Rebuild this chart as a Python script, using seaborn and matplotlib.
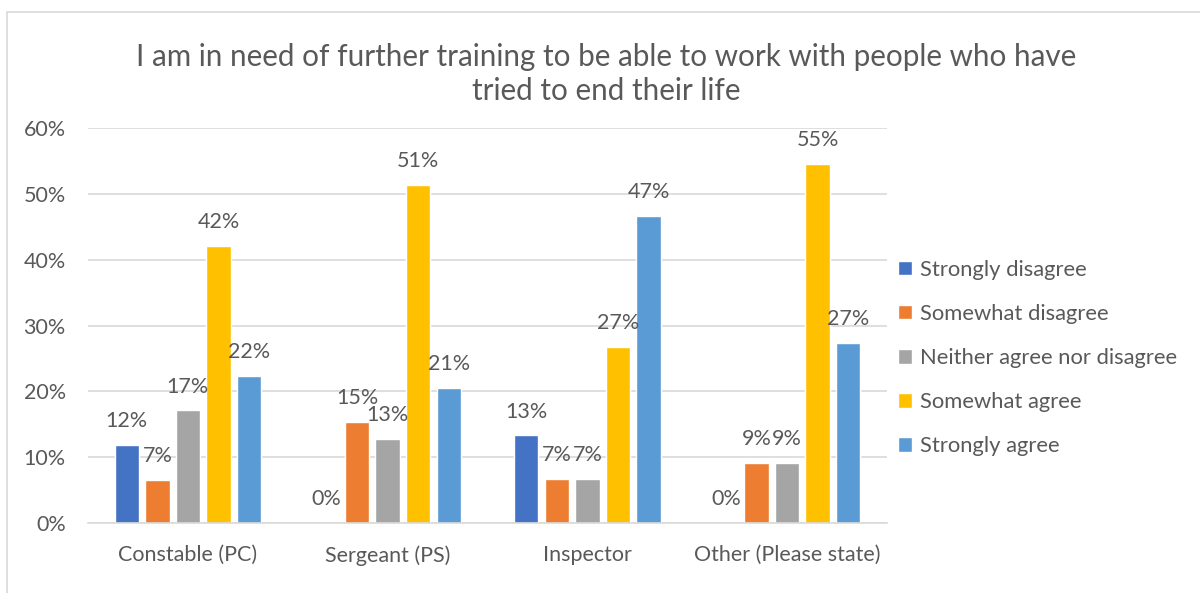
import pandas as pd
import matplotlib
matplotlib.use("Agg")
from matplotlib import pyplot as plt
import seaborn as sns
from matplotlib.ticker import FuncFormatter
from matplotlib.patches import Rectangle

ranks = ["Constable (PC)", "Sergeant (PS)", "Inspector", "Other (Please state)"]
answers = ["Strongly disagree", "Somewhat disagree", "Neither agree nor disagree",
           "Somewhat agree", "Strongly agree"]

strongly_disagree = [11.8, 0.0, 13.3, 0.0]
somewhat_disagree = [6.6, 15.4, 6.7, 9.1]
neither = [17.1, 12.8, 6.7, 9.1]
somewhat_agree = [42.1, 51.3, 26.7, 54.5]
strongly_agree = [22.4, 20.5, 46.7, 27.3]

colors = ["#4472C4", "#ED7D31", "#A5A5A5", "#FFC000", "#5B9BD5"]
text_color = "#595959"


def main():
    sns.set_style("white")
    plt.rcParams['font.family'] = ['Lato', 'DejaVu Sans']

    series = [strongly_disagree, somewhat_disagree, neither, somewhat_agree, strongly_agree]
    rows = []
    for answer, values in zip(answers, series):
        for rank, v in zip(ranks, values):
            rows.append({"Rank": rank, "Answer": answer, "Percent": v})
    df = pd.DataFrame(rows)

    my_dpi = 100
    fig = plt.figure(figsize=(1200 / my_dpi, 593 / my_dpi), dpi=my_dpi)
    ax = fig.add_axes([88 / 1200, 1 - 523 / 593, (887 - 88) / 1200, (523 - 128) / 593])

    sns.barplot(data=df, x="Rank", y="Percent", hue="Answer", hue_order=answers,
                order=ranks, palette=colors, saturation=1, width=0.765, gap=0.2, ax=ax,
                errorbar=None, zorder=2)

    for container in ax.containers:
        ax.bar_label(container, labels=[f"{int(v + 0.5)}%" for v in container.datavalues],
                     padding=10, fontsize=15.5, color=text_color)

    ax.set_ylim(0, 60)
    ax.set_yticks(range(0, 61, 10))
    ax.yaxis.set_major_formatter(FuncFormatter(lambda v, _: f"{v:.0f}%"))
    ax.grid(axis="y", color="#D9D9D9", linewidth=1.2, zorder=0)
    ax.set_axisbelow(True)
    for side in ["top", "right", "left"]:
        ax.spines[side].set_visible(False)
    ax.spines["bottom"].set_color("#D9D9D9")
    ax.spines["bottom"].set_linewidth(1.2)
    ax.tick_params(axis="both", length=0, labelsize=15.5, labelcolor=text_color)
    ax.tick_params(axis="x", pad=16)
    ax.tick_params(axis="y", pad=16)
    ax.set_xlabel("")
    ax.set_ylabel("")

    ax.legend(loc="center left", bbox_to_anchor=(878 / 1200, 1 - 358 / 593),
              bbox_transform=fig.transFigure,
              frameon=False, fontsize=15.8, labelcolor=text_color,
              handlelength=0.65, handleheight=0.65, handletextpad=0.35, labelspacing=1.1)

    fig.text(0.505, 1 - 74 / 593, "I am in need of further training to be able to work with people who have\ntried to end their life",
             ha="center", va="center", fontsize=21.3, color=text_color, linespacing=1.3)

    fig.patches.append(Rectangle((7 / 1200, -0.1), 1.2, 1 - 12 / 593 + 0.1, transform=fig.transFigure,
                                 fill=False, edgecolor="#D9D9D9", linewidth=1.2))

    plt.savefig("out.png", dpi=my_dpi)


if __name__ == "__main__":
    main()
